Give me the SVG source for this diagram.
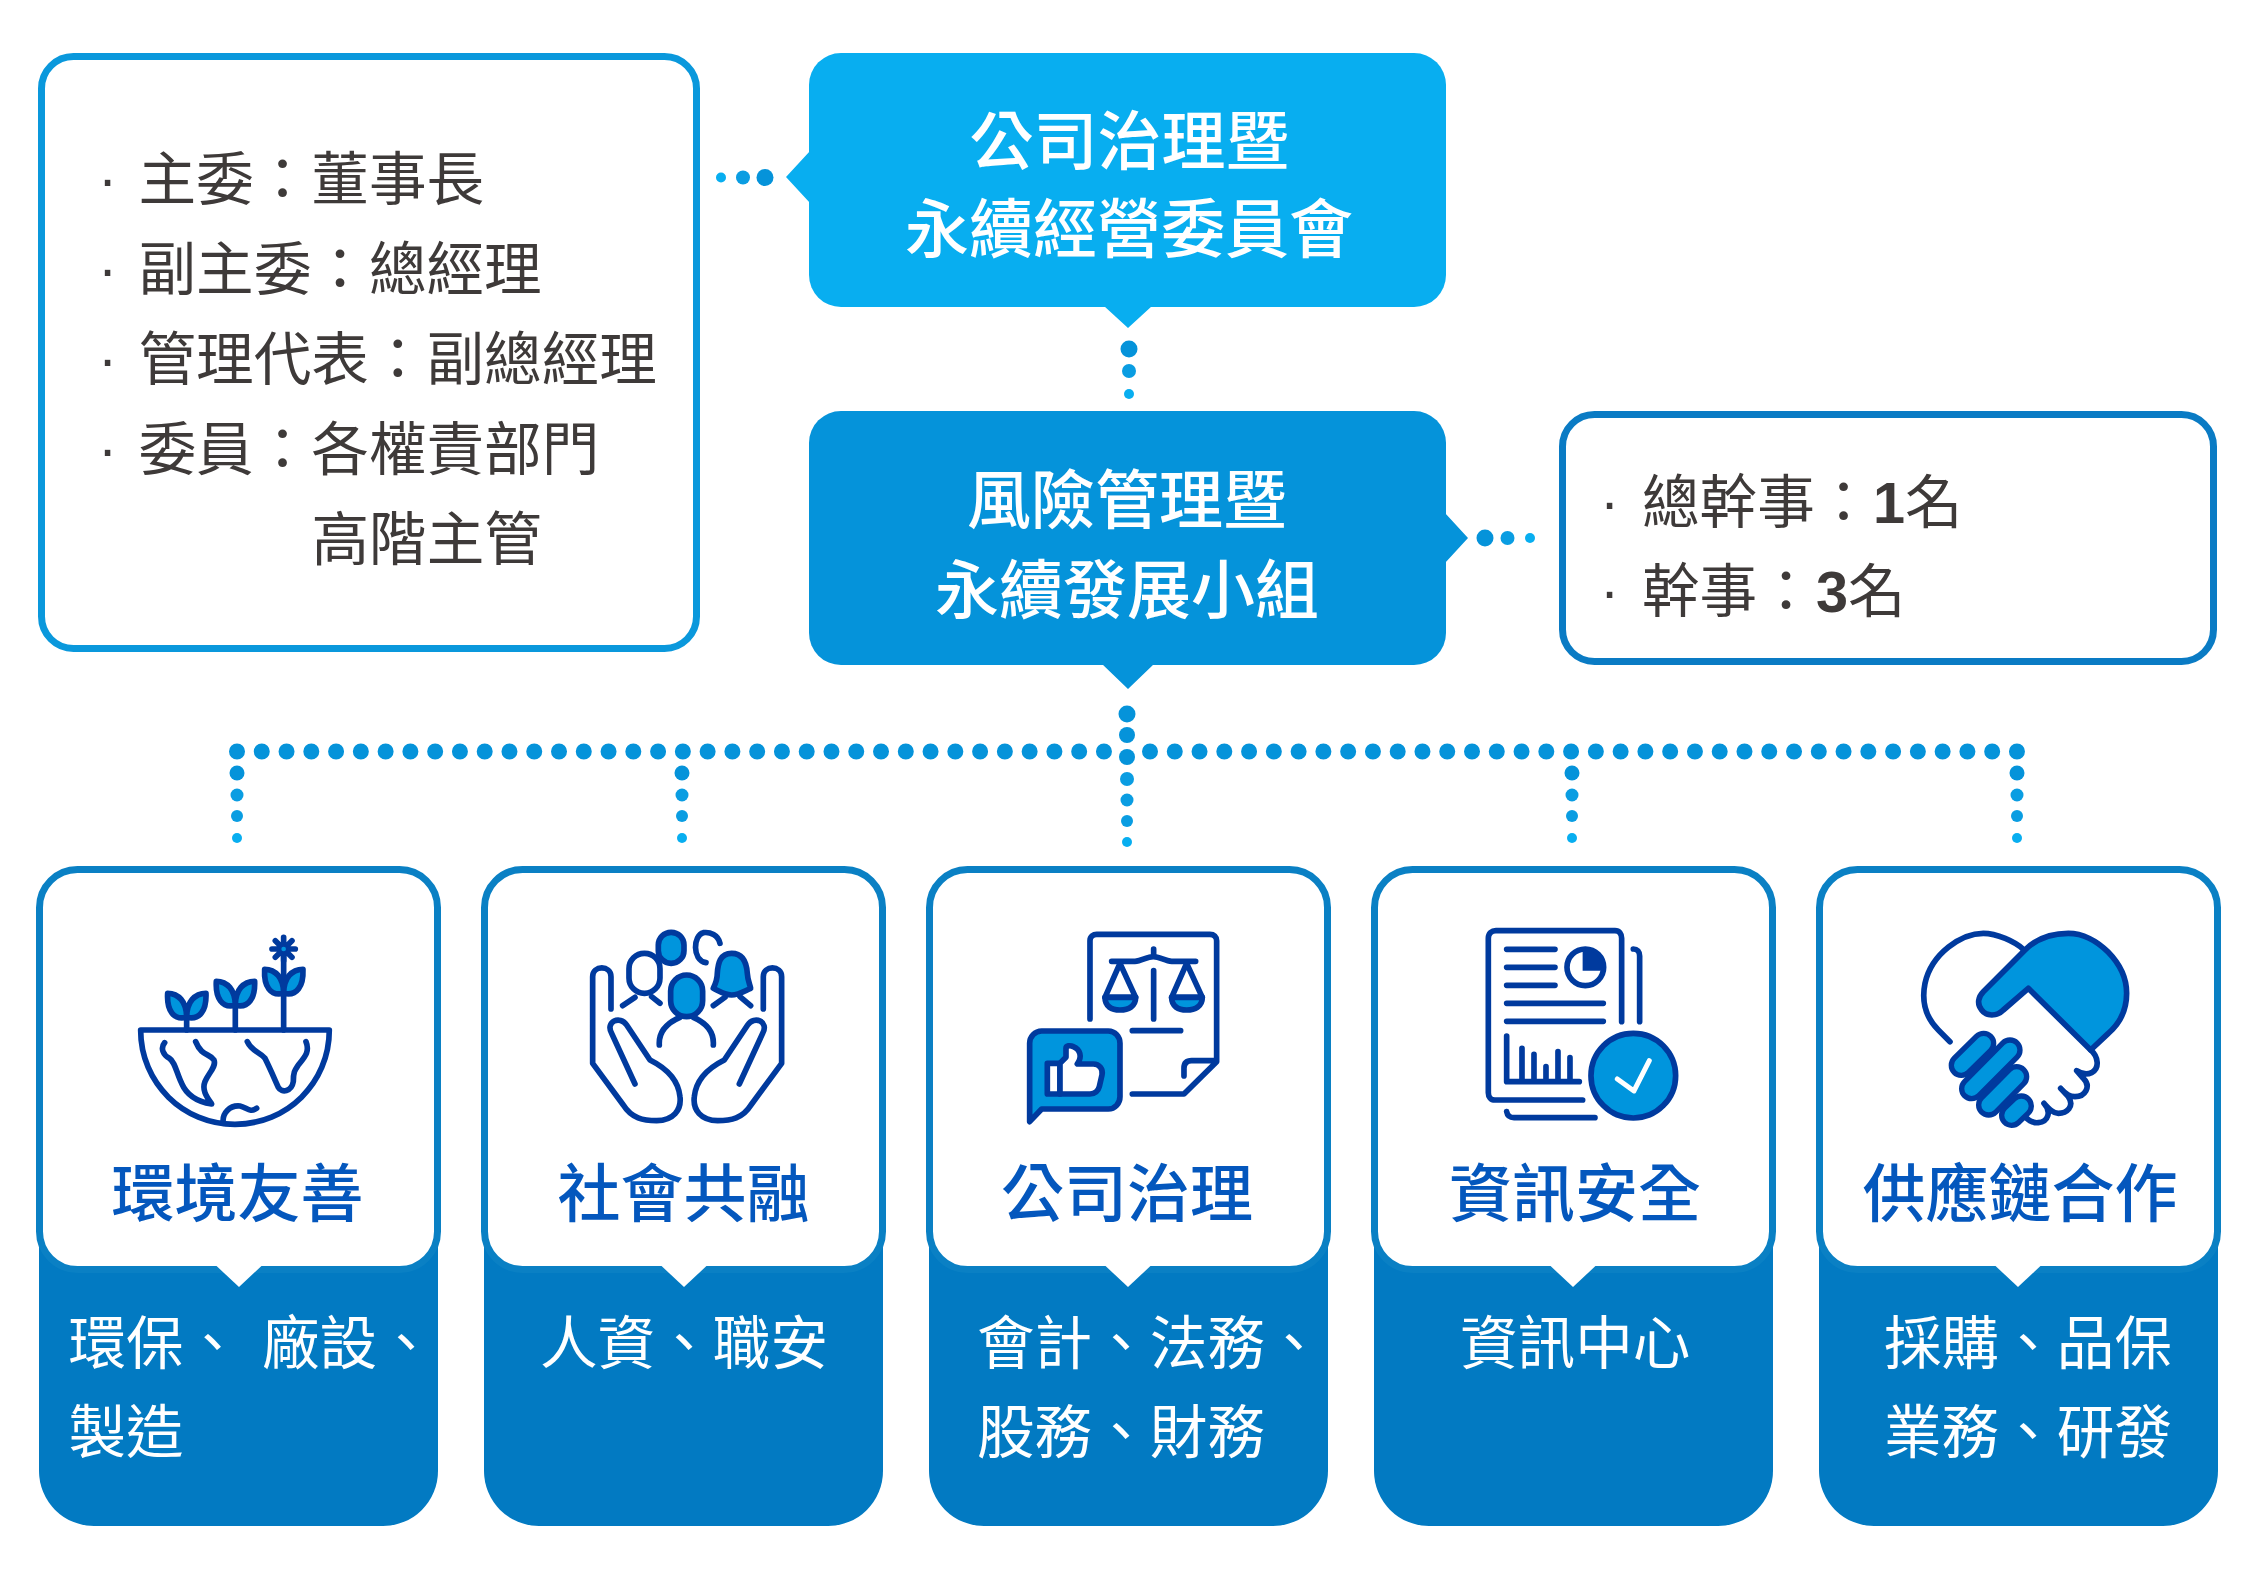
<svg xmlns="http://www.w3.org/2000/svg" width="2264" height="1582" viewBox="0 0 2264 1582">
<style>
text{font-family:"Noto Sans CJK TC","Noto Sans CJK SC",sans-serif}
.body{font-size:57.6px;fill:#3e3a39;font-weight:400}
.bul{font-family:"Liberation Sans",sans-serif;font-size:57.6px;fill:#3e3a39}
.num{font-family:"Liberation Sans",sans-serif;font-weight:700}
.head{font-size:64px;fill:#fff;font-weight:500;text-anchor:middle}
.title{font-size:63px;fill:#0457bd;font-weight:500;text-anchor:middle}
.dept{font-size:57.6px;fill:#fff;font-weight:400}
.wbox{fill:#fff;stroke-width:7}
.cardbg{fill:#027ac2}
.cardtop{fill:#fff;stroke:#0a80c4;stroke-width:7}
.ic{fill:none;stroke:#003a9e;stroke-width:17;stroke-linecap:round;stroke-linejoin:round}
.icb{fill:#0095dd}
.icw{fill:#fff}
.hd{stroke:#0593da;stroke-width:16;stroke-linecap:round;stroke-dasharray:0 24.77;fill:none}
.d1{fill:#0593da}.d2{fill:#0a9de2}.d3{fill:#08aef0}
</style>
<g id="connectors">
<circle class="d1" cx="765" cy="177.500" r="8.500"/><circle class="d2" cx="743" cy="177.500" r="7"/><circle class="d3" cx="721" cy="177.500" r="5"/>
<circle class="d1" cx="1129" cy="349" r="8.500"/><circle class="d2" cx="1129" cy="371" r="7"/><circle class="d3" cx="1129" cy="394" r="5"/>
<circle class="d1" cx="1485" cy="538" r="8.500"/><circle class="d2" cx="1507.500" cy="538" r="7"/><circle class="d3" cx="1530" cy="538" r="5"/>
<path class="hd" d="M237 751.500H1104"/><path class="hd" d="M1150 751.500H2017"/>
<circle class="d1" cx="1127" cy="714" r="8.500"/><circle class="d1" cx="1127" cy="735" r="8"/><circle class="d1" cx="1127" cy="757" r="8"/><circle class="d2" cx="1127" cy="779" r="7"/><circle class="d2" cx="1127" cy="800" r="6.500"/><circle class="d2" cx="1127" cy="821" r="6"/><circle class="d3" cx="1127" cy="842" r="5"/>
<circle class="d1" cx="237" cy="773" r="7.500"/><circle class="d2" cx="237" cy="795" r="6.500"/><circle class="d2" cx="237" cy="816" r="6"/><circle class="d3" cx="237" cy="838" r="5"/>
<circle class="d1" cx="682" cy="773" r="7.500"/><circle class="d2" cx="682" cy="795" r="6.500"/><circle class="d2" cx="682" cy="816" r="6"/><circle class="d3" cx="682" cy="838" r="5"/>
<circle class="d1" cx="1572" cy="773" r="7.500"/><circle class="d2" cx="1572" cy="795" r="6.500"/><circle class="d2" cx="1572" cy="816" r="6"/><circle class="d3" cx="1572" cy="838" r="5"/>
<circle class="d1" cx="2017" cy="773" r="7.500"/><circle class="d2" cx="2017" cy="795" r="6.500"/><circle class="d2" cx="2017" cy="816" r="6"/><circle class="d3" cx="2017" cy="838" r="5"/>
</g>
<g id="committee-members">
<rect class="wbox" x="41.500" y="56.500" width="655" height="592" rx="32" stroke="#0a98dc"/>
<text class="bul" x="98" y="199">·</text><text class="body" x="138.500" y="200">主委：董事長</text>
<text class="bul" x="98" y="289">·</text><text class="body" x="138.500" y="290">副主委：總經理</text>
<text class="bul" x="98" y="379">·</text><text class="body" x="138.500" y="380">管理代表：副總經理</text>
<text class="bul" x="98" y="469">·</text><text class="body" x="138.500" y="470">委員：各權責部門</text>
<text class="body" x="311.500" y="560">高階主管</text>
</g>
<g id="committee">
<rect x="809" y="53" width="637" height="254" rx="32" fill="#08aef0"/>
<path d="M810 151L786 177L810 203ZM1104 306L1128 328L1152 306Z" fill="#08aef0"/>
<text class="head" x="1129.500" y="164">公司治理暨</text>
<text class="head" x="1129" y="252">永續經營委員會</text>
</g>
<g id="working-group">
<rect x="809" y="411" width="637" height="254" rx="32" fill="#0593da"/>
<path d="M1445 513L1468 538L1445 563ZM1102 664L1128 689L1154 664Z" fill="#0593da"/>
<text class="head" x="1127" y="523">風險管理暨</text>
<text class="head" x="1127" y="613">永續發展小組</text>
</g>
<g id="working-group-members">
<rect class="wbox" x="1562.500" y="414.500" width="651" height="247" rx="32" stroke="#0a7bc4"/>
<text class="bul" x="1600" y="522">·</text><text class="body" x="1642" y="523">總幹事：<tspan class="num" x="1873">1</tspan><tspan>名</tspan></text>
<text class="bul" x="1600" y="611">·</text><text class="body" x="1642" y="612">幹事：<tspan class="num" x="1816">3</tspan><tspan>名</tspan></text>
</g>
<g id="card-environment">
<rect class="cardbg" x="39" y="1180" width="399" height="346" rx="55"/>
<rect class="cardtop" x="39.500" y="869.500" width="398" height="400" rx="38"/>
<path d="M216 1265.500L239 1287L262 1265.500Z" fill="#fff"/>
<g transform="translate(20 860) scale(.3333)">
<path class="ic" d="M362 510H928C928 670 800 793 645 793C490 793 362 670 362 510Z"/>
<path class="ic" d="M434 548C420 565 430 585 448 595C465 605 470 640 485 670C500 705 530 725 575 732C560 710 545 690 555 665C565 640 590 620 582 600C570 580 545 590 527 545M682 545C695 575 720 575 735 595C750 625 765 660 775 682C785 700 815 695 820 665C820 635 825 630 835 615C855 590 870 575 858 545M610 790C605 760 630 735 660 738C680 742 690 760 710 745"/>
<path class="ic" d="M500 470V510M646 432V510M791 280V510"/>
<path class="ic icb" d="M500 472C460 482 440 450 443 400C475 400 500 425 500 472C540 482 560 450 558 400C525 400 500 425 500 472Z"/>
<path class="ic icb" d="M646 436C606 446 586 414 589 364C621 364 646 389 646 436C686 446 706 414 704 364C671 364 646 389 646 436Z"/>
<path class="ic icb" d="M791 400C751 410 731 378 734 328C766 328 791 353 791 400C831 410 851 378 849 328C816 328 791 353 791 400Z"/>
<path class="ic" stroke-width="18" d="M791 232V302M756 267H826M766 242L816 292M816 242L766 292"/>
<circle cx="791" cy="267" r="13" fill="#003a9e"/><circle cx="791" cy="267" r="7" fill="#0095dd"/>
</g>
<text class="title" x="237.500" y="1216">環境友善</text>
<text class="dept" x="68.500" y="1364">環保、<tspan x="262">廠設、</tspan></text>
<text class="dept" x="68.500" y="1453">製造</text>
</g>
<g id="card-society">
<rect class="cardbg" x="484" y="1180" width="399" height="346" rx="55"/>
<rect class="cardtop" x="484.500" y="869.500" width="398" height="400" rx="38"/>
<path d="M661 1265.500L684 1287L707 1265.500Z" fill="#fff"/>
<g transform="translate(480 860) scale(.3333)">
<path class="ic" d="M393 447V350C393 315 338 315 338 350V610L430 735C455 775 490 782 530 782C580 782 605 750 600 710C595 660 560 625 510 600L440 495C420 465 375 485 395 520L465 672"/>
<path class="ic" d="M850 447V350C850 315 905 315 905 350V610L813 735C788 775 753 782 713 782C663 782 638 750 643 710C648 660 683 625 733 600L803 495C823 465 868 485 848 520L778 672"/>
<rect class="ic icb" x="572" y="345" width="96" height="125" rx="48"/>
<path class="ic" d="M538 555C535 510 570 485 600 472M700 555C703 510 670 485 640 472"/>
<rect class="ic" x="447" y="280" width="93" height="120" rx="46"/>
<path class="ic" d="M428 437L465 412M540 430L515 410"/>
<rect class="ic icb" x="535" y="217" width="77" height="93" rx="38"/>
<path class="ic" d="M720 250C715 225 690 215 670 218C640 225 635 300 678 308"/>
<path class="ic icb" d="M755 280C790 280 800 310 802 340C803 360 810 375 812 385C790 395 775 405 755 405C735 405 720 395 700 385C705 375 712 360 712 340C714 310 720 280 755 280Z"/>
<path class="ic" d="M700 437L735 412M812 437L780 410"/>
</g>
<text class="title" x="683.500" y="1216">社會共融</text>
<text class="dept" x="540" y="1364">人資、職安</text>
</g>
<g id="card-governance">
<rect class="cardbg" x="929" y="1180" width="399" height="346" rx="55"/>
<rect class="cardtop" x="929.500" y="869.500" width="398" height="400" rx="38"/>
<path d="M1105 1265.500L1128 1287L1151 1265.500Z" fill="#fff"/>
<g transform="translate(930 900) scale(.3333)">
<path class="ic" d="M480 357V122C480 110 490 103 500 103H840C852 103 860 110 860 122V485L762 582H607M860 482H785C770 482 762 490 762 505V528"/>
<path class="ic" d="M545 184H615C635 184 650 170 670 170C690 170 705 184 725 184H797M671 147V170M671 212V357M607 392H752"/>
<path class="ic" d="M570 190L525 292H617ZM770 190L725 292H817Z"/>
<path class="ic icb" d="M525 292C525 320 545 330 570 330C595 330 617 320 617 292ZM725 292C725 320 745 330 770 330C795 330 817 320 817 292Z"/>
<path class="ic icb" d="M299 665V430C299 410 315 393 335 393H535C555 393 570 410 570 430V590C570 610 555 627 535 627H335Z"/>
<rect class="ic icw" x="352" y="490" width="38" height="92"/>
<path class="ic icw" d="M390 490L408 472V445C408 437 420 435 430 440C450 448 458 470 442 492H490C508 492 520 508 516 525L508 560C505 572 495 582 480 582H390Z"/>
</g>
<text class="title" x="1127" y="1216">公司治理</text>
<text class="dept" x="977" y="1364">會計、法務、</text>
<text class="dept" x="977" y="1453">股務、財務</text>
</g>
<g id="card-infosec">
<rect class="cardbg" x="1374" y="1180" width="399" height="346" rx="55"/>
<rect class="cardtop" x="1374.500" y="869.500" width="398" height="400" rx="38"/>
<path d="M1550 1265.500L1573 1287L1596 1265.500Z" fill="#fff"/>
<g transform="translate(1400 900) scale(.3333)">
<path class="ic" d="M548 600H285C272 600 265 590 265 578V115C265 100 275 92 288 92H645C658 92 665 102 665 115V365M700 147C712 147 719 155 719 168V365M320 635C322 647 330 653 342 653H585"/>
<path class="ic" d="M320 148H465M320 202H465M320 256H465M320 310H610M320 364H610"/>
<circle class="ic" cx="556" cy="202" r="55"/>
<path d="M548 150V212H610C610 180 585 150 548 150Z" fill="#003a9e"/>
<path class="ic" d="M320 408V545H538M366 445V545M402 463V545M438 500V545M474 455V545M510 473V545"/>
<circle class="ic icb" cx="700" cy="527" r="127"/>
<path d="M652 537L702 573L748 482" fill="none" stroke="#fff" stroke-width="15" stroke-linecap="round" stroke-linejoin="round"/>
</g>
<text class="title" x="1575" y="1216">資訊安全</text>
<text class="dept" x="1460" y="1364">資訊中心</text>
</g>
<g id="card-supply">
<rect class="cardbg" x="1819" y="1180" width="399" height="346" rx="55"/>
<rect class="cardtop" x="1819.500" y="869.500" width="398" height="400" rx="38"/>
<path d="M1995 1265.500L2018 1287L2041 1265.500Z" fill="#fff"/>
<g transform="translate(1840 900) scale(.3333)">
<path class="ic" d="M330 425L295 390C255 350 245 300 255 250C275 160 365 100 430 100C470 100 525 125 550 148"/>
<path class="ic icb" d="M555 150C600 105 650 100 685 100C770 100 860 190 860 280C860 330 840 370 805 400L752 450L565 265L490 330C470 350 440 350 425 330C410 312 415 290 430 275Z"/>
<path class="ic" d="M752 450C775 470 780 505 755 518C740 525 722 520 710 512L730 535C755 560 735 590 705 590C690 590 680 585 662 565L685 590C705 620 680 640 655 640C640 640 630 630 612 610C635 635 625 665 595 668C580 670 565 660 555 650"/>
<g fill="none" stroke-linecap="round">
<path stroke="#003a9e" stroke-width="76" d="M364 496L431 430"/>
<path stroke="#003a9e" stroke-width="76" d="M395 566L510 450"/>
<path stroke="#003a9e" stroke-width="76" d="M446 615L530 530"/>
<path stroke="#003a9e" stroke-width="76" d="M515 646L544 618"/>
<path stroke="#0095dd" stroke-width="44" d="M364 496L431 430"/>
<path stroke="#0095dd" stroke-width="44" d="M395 566L510 450"/>
<path stroke="#0095dd" stroke-width="44" d="M446 615L530 530"/>
<path stroke="#0095dd" stroke-width="44" d="M515 646L544 618"/>
</g>
</g>
<text class="title" x="2020" y="1216">供應鏈合作</text>
<text class="dept" x="1884" y="1364">採購、品保</text>
<text class="dept" x="1884" y="1453">業務、研發</text>
</g>
</svg>
